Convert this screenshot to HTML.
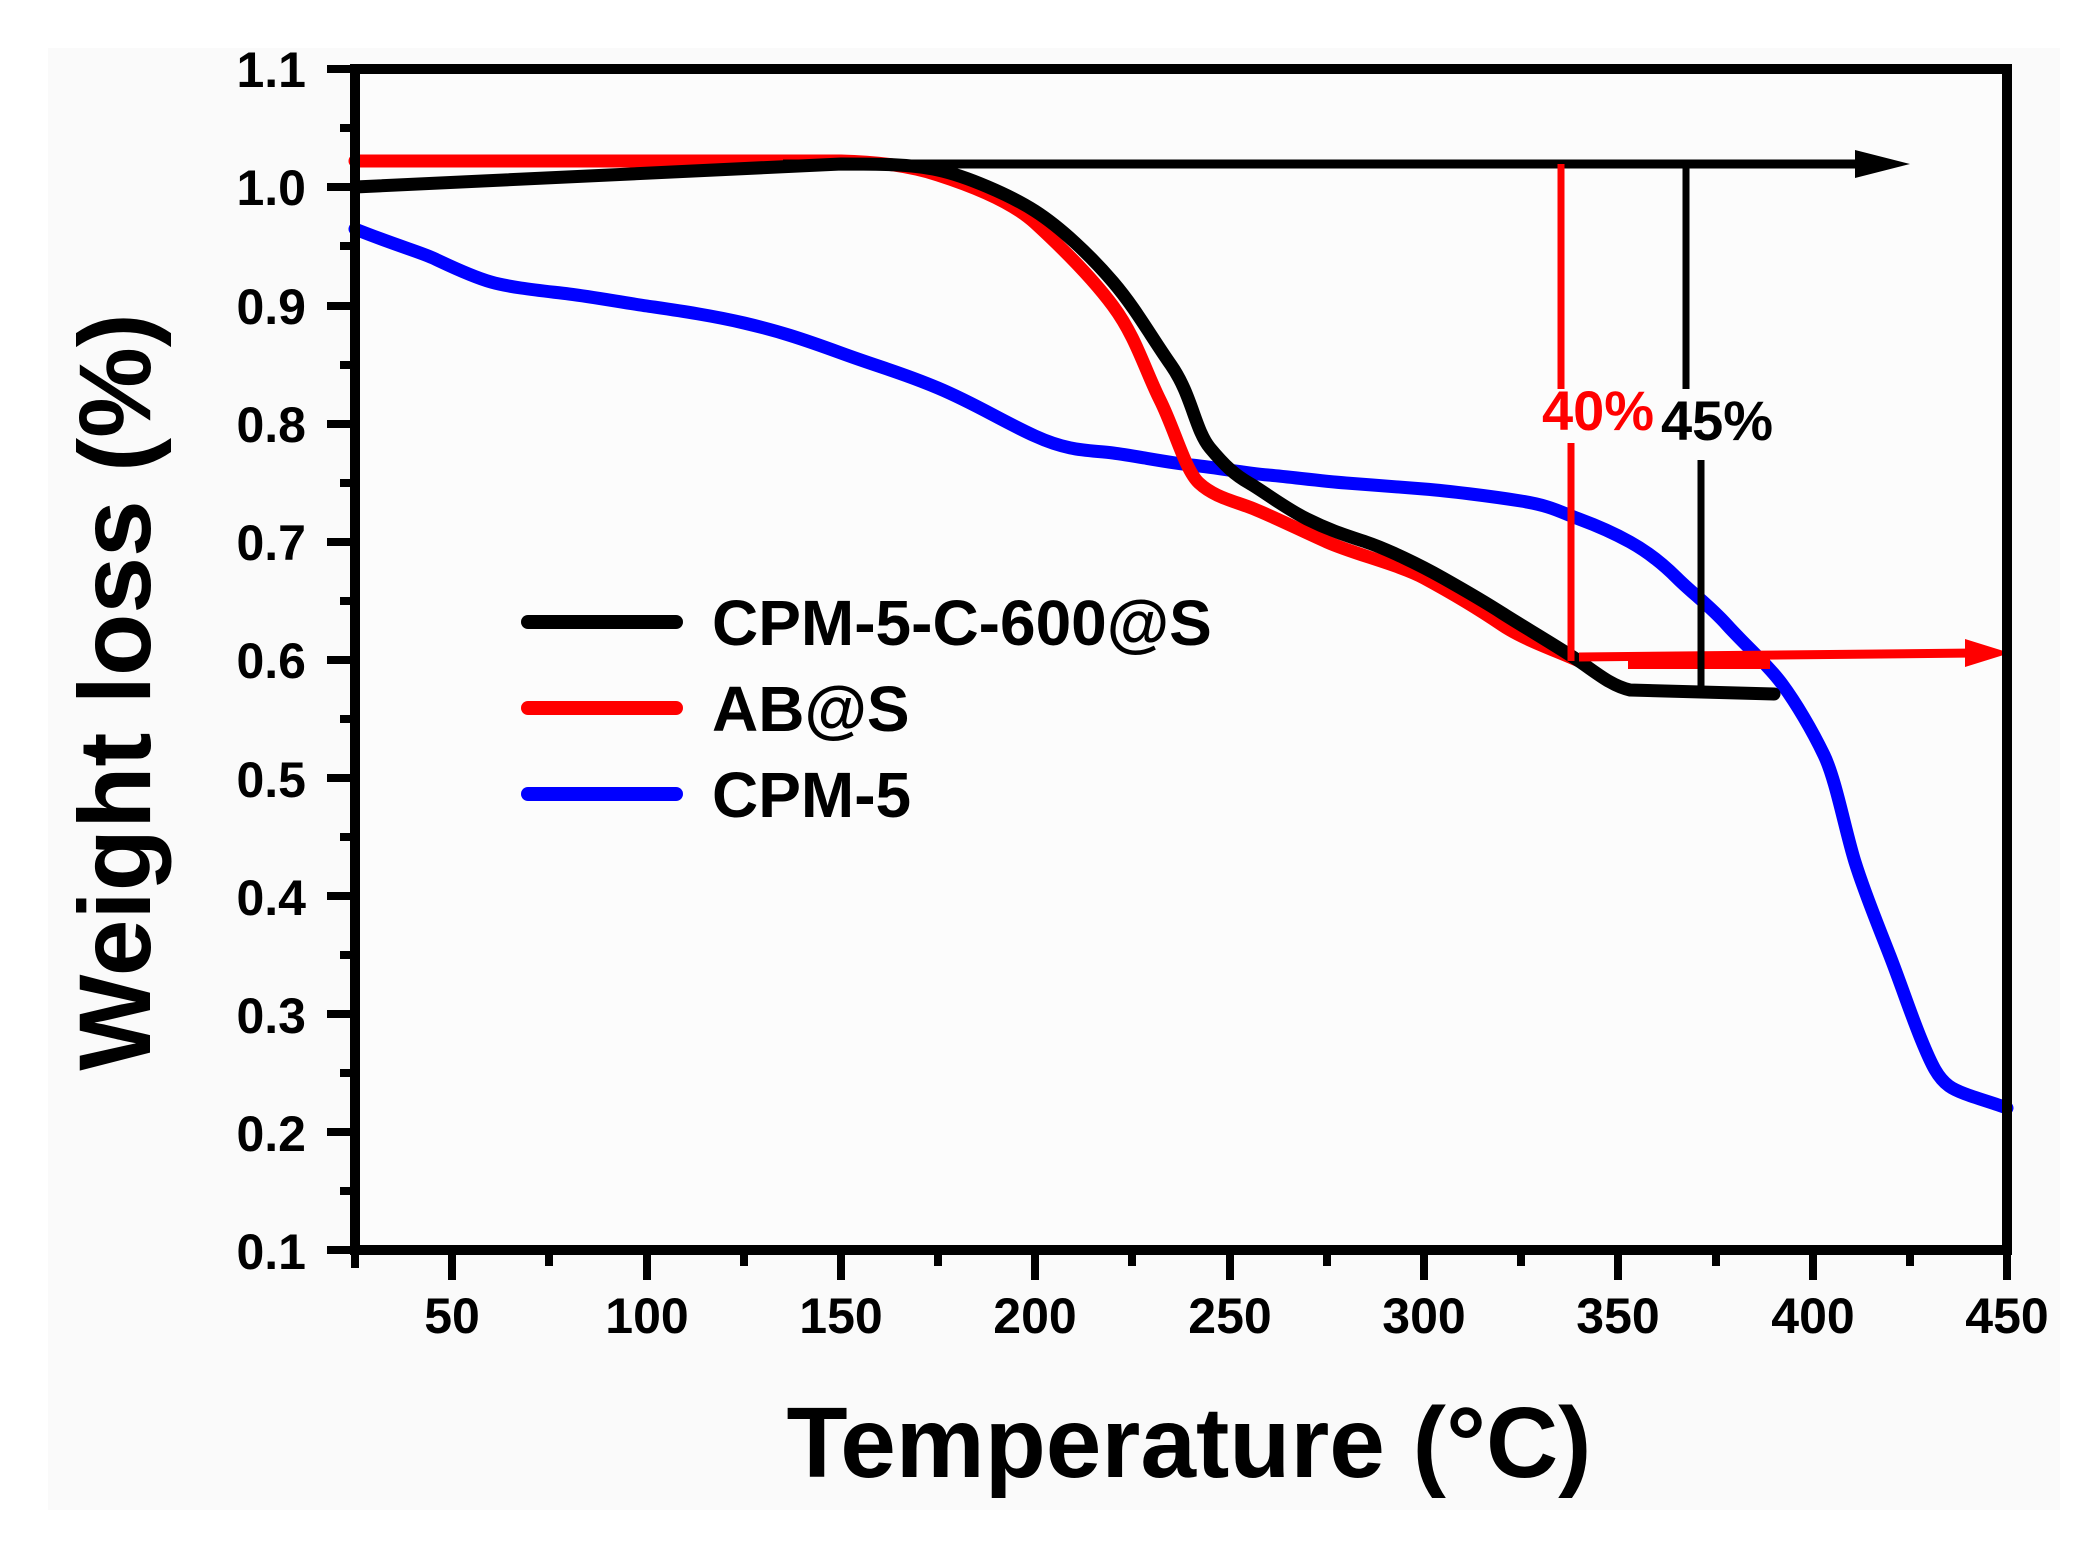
<!DOCTYPE html>
<html><head><meta charset="utf-8"><style>
html,body{margin:0;padding:0;background:#fff;}
svg{display:block;}
text{font-family:"Liberation Sans",Arial,sans-serif;font-weight:bold;}
</style></head><body>
<svg width="2095" height="1541" viewBox="0 0 2095 1541" xmlns="http://www.w3.org/2000/svg">
<rect x="48" y="48" width="2012" height="1462" fill="#fafafa"/>
<rect x="355" y="69" width="1652" height="1181" fill="#fcfcfc"/>
<g fill="none" stroke-linejoin="round" stroke-linecap="round" stroke-width="13">
<path stroke="#0000ff" d="M355,229 C395,245 420,252 433,258 S470,276 491,282 S545,291 569,294 S620,302 647,306 S710,315 744,323 S800,338 841,353 S900,372 938,388 S1000,420 1035,436 S1090,450 1113,453 S1170,463 1191,465 S1245,473 1268,475 S1320,481 1346,483 S1400,487 1424,489 S1490,496 1521,501 S1560,512 1579,519 S1612,532 1630,542 S1662,563 1677,578 S1710,606 1727,625 S1768,665 1782,684 S1812,730 1824,755 S1845,830 1855,862 S1878,925 1890,956 S1910,1012 1921,1039 S1938,1078 1949,1086 S1985,1100 2007,1108"/>
<path stroke="#ff0000" d="M355,161 L841,161 C880,162 910,166 938,175 S1010,200 1035,223 S1090,275 1113,306 S1145,370 1160,400 S1185,470 1199,483 S1230,500 1249,507 S1300,530 1327,542 S1400,565 1424,578 S1480,610 1502,625 S1560,652 1579,661"/>
<path stroke="#000" d="M355,187 L841,164 C880,164 910,164 938,170 S1010,195 1035,211 S1090,255 1113,282 S1150,335 1171,365 S1195,430 1210,448 S1235,475 1249,483 S1285,508 1307,519 S1345,535 1366,542 S1420,565 1443,578 S1485,602 1502,613 S1560,648 1579,661 S1612,686 1630,690 L1774,694"/>
</g>
<line x1="783" y1="164" x2="1870" y2="164" stroke="#000" stroke-width="9"/>
<polygon points="1855,150 1910,164 1855,178" fill="#000"/>
<line x1="1579" y1="657" x2="1975" y2="653" stroke="#ff0000" stroke-width="9"/>
<polygon points="1965,639 2010,653 1965,667" fill="#ff0000"/>
<line x1="1628" y1="662" x2="1770" y2="662" stroke="#ff0000" stroke-width="14"/>
<line x1="1561" y1="164" x2="1561" y2="389" stroke="#ff0000" stroke-width="7"/>
<line x1="1571" y1="443" x2="1571" y2="661" stroke="#ff0000" stroke-width="7"/>
<line x1="1686" y1="164" x2="1686" y2="389" stroke="#000" stroke-width="7"/>
<line x1="1701" y1="460" x2="1701" y2="694" stroke="#000" stroke-width="7"/>
<text x="1542" y="430" font-size="56" fill="#ff0000">40%</text>
<text x="1661" y="440" font-size="56" fill="#000">45%</text>
<line x1="528" y1="622" x2="676" y2="622" stroke="#000" stroke-width="14" stroke-linecap="round"/>
<line x1="528" y1="708" x2="676" y2="708" stroke="#ff0000" stroke-width="14" stroke-linecap="round"/>
<line x1="528" y1="794" x2="676" y2="794" stroke="#0000ff" stroke-width="14" stroke-linecap="round"/>
<text x="712" y="645" font-size="64">CPM-5-C-600@S</text>
<text x="712" y="731" font-size="64">AB@S</text>
<text x="712" y="817" font-size="64">CPM-5</text>
<rect x="355" y="69" width="1652" height="1181" fill="none" stroke="#000" stroke-width="10"/>
<g stroke="#000" stroke-width="8">
<line x1="355" y1="1250" x2="355" y2="1268"/>
<line x1="452" y1="1250" x2="452" y2="1280"/>
<line x1="549" y1="1250" x2="549" y2="1266"/>
<line x1="647" y1="1250" x2="647" y2="1280"/>
<line x1="744" y1="1250" x2="744" y2="1266"/>
<line x1="841" y1="1250" x2="841" y2="1280"/>
<line x1="938" y1="1250" x2="938" y2="1266"/>
<line x1="1035" y1="1250" x2="1035" y2="1280"/>
<line x1="1132" y1="1250" x2="1132" y2="1266"/>
<line x1="1230" y1="1250" x2="1230" y2="1280"/>
<line x1="1327" y1="1250" x2="1327" y2="1266"/>
<line x1="1424" y1="1250" x2="1424" y2="1280"/>
<line x1="1521" y1="1250" x2="1521" y2="1266"/>
<line x1="1618" y1="1250" x2="1618" y2="1280"/>
<line x1="1716" y1="1250" x2="1716" y2="1266"/>
<line x1="1813" y1="1250" x2="1813" y2="1280"/>
<line x1="1910" y1="1250" x2="1910" y2="1266"/>
<line x1="2007" y1="1250" x2="2007" y2="1280"/>
<line x1="327" y1="69" x2="355" y2="69"/>
<line x1="340" y1="128" x2="355" y2="128"/>
<line x1="327" y1="187" x2="355" y2="187"/>
<line x1="340" y1="246" x2="355" y2="246"/>
<line x1="327" y1="306" x2="355" y2="306"/>
<line x1="340" y1="365" x2="355" y2="365"/>
<line x1="327" y1="424" x2="355" y2="424"/>
<line x1="340" y1="483" x2="355" y2="483"/>
<line x1="327" y1="542" x2="355" y2="542"/>
<line x1="340" y1="601" x2="355" y2="601"/>
<line x1="327" y1="660" x2="355" y2="660"/>
<line x1="340" y1="719" x2="355" y2="719"/>
<line x1="327" y1="778" x2="355" y2="778"/>
<line x1="340" y1="837" x2="355" y2="837"/>
<line x1="327" y1="896" x2="355" y2="896"/>
<line x1="340" y1="955" x2="355" y2="955"/>
<line x1="327" y1="1014" x2="355" y2="1014"/>
<line x1="340" y1="1073" x2="355" y2="1073"/>
<line x1="327" y1="1132" x2="355" y2="1132"/>
<line x1="340" y1="1191" x2="355" y2="1191"/>
<line x1="327" y1="1250" x2="355" y2="1250"/>
</g>
<g font-size="50" text-anchor="end">
<text x="306" y="87">1.1</text>
<text x="306" y="205">1.0</text>
<text x="306" y="324">0.9</text>
<text x="306" y="442">0.8</text>
<text x="306" y="560">0.7</text>
<text x="306" y="678">0.6</text>
<text x="306" y="797">0.5</text>
<text x="306" y="915">0.4</text>
<text x="306" y="1033">0.3</text>
<text x="306" y="1151">0.2</text>
<text x="306" y="1269">0.1</text>
</g>
<g font-size="50" text-anchor="middle">
<text x="452" y="1333">50</text>
<text x="647" y="1333">100</text>
<text x="841" y="1333">150</text>
<text x="1035" y="1333">200</text>
<text x="1230" y="1333">250</text>
<text x="1424" y="1333">300</text>
<text x="1618" y="1333">350</text>
<text x="1813" y="1333">400</text>
<text x="2007" y="1333">450</text>
</g>
<text x="1189" y="1477" font-size="100" text-anchor="middle">Temperature (°C)</text>
<text transform="translate(150,692) rotate(-90)" font-size="102" text-anchor="middle">Weight loss (%)</text>
</svg>
</body></html>
